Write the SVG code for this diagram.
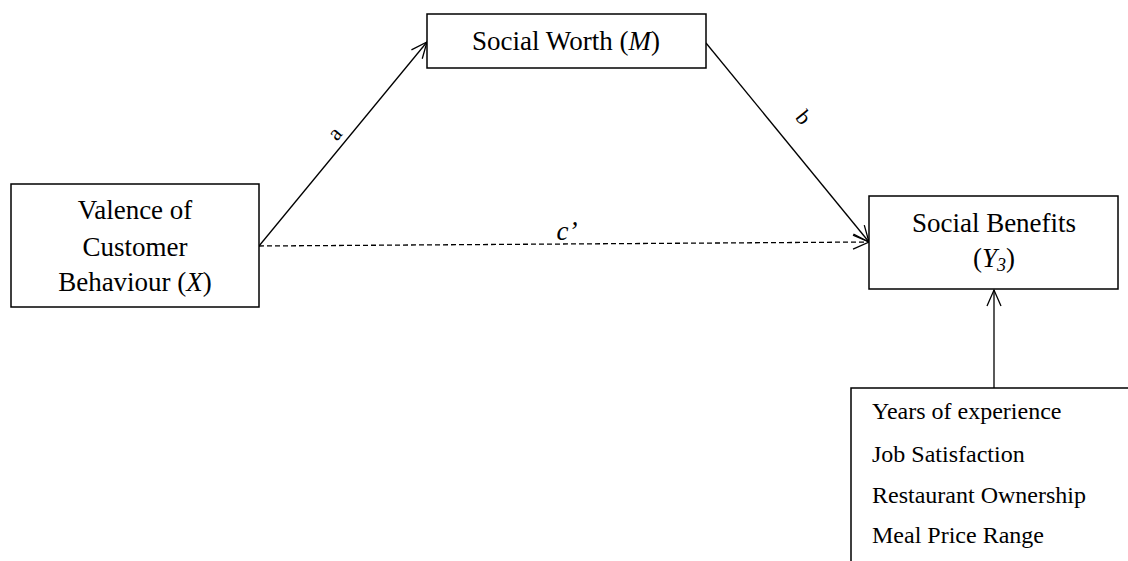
<svg xmlns="http://www.w3.org/2000/svg" width="1128" height="561" viewBox="0 0 1128 561">
  <style>
    .box { fill: #ffffff; stroke: #000000; stroke-width: 1.5; }
    .lbl { font-family: "Liberation Serif", "Times New Roman", serif; font-size: 27px; fill: #000000; }
    .ctl { font-family: "Liberation Serif", "Times New Roman", serif; font-size: 24px; fill: #000000; }
    .path-lbl { font-family: "Liberation Serif", "Times New Roman", serif; font-size: 22px; fill: #000000; }
    .edge { fill: none; stroke: #000000; stroke-width: 1.3; }
    .dashed { stroke-dasharray: 5 3; }
  </style>
  <defs>
    <marker id="open-arrow" viewBox="-18 -9 20 18" refX="0" refY="0" markerWidth="20" markerHeight="18" markerUnits="userSpaceOnUse" orient="auto">
      <path d="M-16,-7 L0,0 L-16,7" fill="none" stroke="#000000" stroke-width="1.3"/>
    </marker>
  </defs>

  <!-- connectors -->
  <g id="connectors">
    <line class="edge" x1="259" y1="246" x2="427" y2="42" marker-end="url(#open-arrow)"/>
    <line class="edge" x1="706" y1="43" x2="869" y2="242" marker-end="url(#open-arrow)"/>
    <line class="edge dashed" x1="259" y1="246" x2="869" y2="242" marker-end="url(#open-arrow)"/>
    <line class="edge" x1="994" y1="388" x2="994" y2="290" marker-end="url(#open-arrow)"/>
    <text class="path-lbl" transform="translate(340,138) rotate(-50.5)" text-anchor="middle">a</text>
    <text class="path-lbl" transform="translate(798,122) rotate(50.7)" text-anchor="middle">b</text>
    <text class="lbl" x="567" y="240" text-anchor="middle" font-style="italic">c’</text>
  </g>

  <!-- X: valence of customer behaviour -->
  <g id="node-x">
    <rect class="box" x="11" y="184" width="248" height="123"/>
    <text class="lbl" x="135" y="219" text-anchor="middle">Valence of</text>
    <text class="lbl" x="135" y="256" text-anchor="middle">Customer</text>
    <text class="lbl" x="135" y="291" text-anchor="middle">Behaviour (<tspan font-style="italic">X</tspan>)</text>
  </g>

  <!-- M: social worth -->
  <g id="node-m">
    <rect class="box" x="427" y="14" width="279" height="54"/>
    <text class="lbl" x="566" y="50" text-anchor="middle">Social Worth (<tspan font-style="italic">M</tspan>)</text>
  </g>

  <!-- Y3: social benefits -->
  <g id="node-y">
    <rect class="box" x="869" y="196" width="249" height="93"/>
    <text class="lbl" x="994" y="232" text-anchor="middle">Social Benefits</text>
    <text class="lbl" x="994" y="267" text-anchor="middle">(<tspan font-style="italic">Y</tspan><tspan font-style="italic" font-size="18" dy="4">3</tspan><tspan dy="-4">)</tspan></text>
  </g>

  <!-- control variables -->
  <g id="node-controls">
    <path class="box" fill="none" d="M1130,388 H851 V561"/>
    <text class="ctl" x="872" y="419">Years of experience</text>
    <text class="ctl" x="872" y="462">Job Satisfaction</text>
    <text class="ctl" x="872" y="503">Restaurant Ownership</text>
    <text class="ctl" x="872" y="543">Meal Price Range</text>
  </g>
</svg>
